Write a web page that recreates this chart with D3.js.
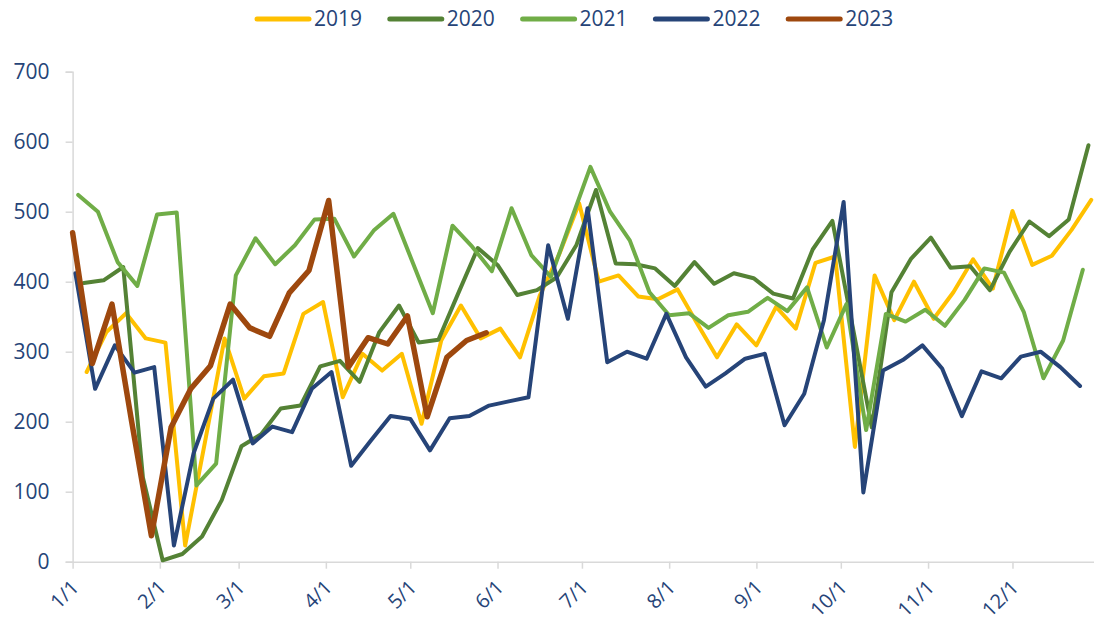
<!DOCTYPE html>
<html>
<head>
<meta charset="utf-8">
<script src="https://cdn.jsdelivr.net/npm/d3@7"></script>
<style>
  html, body { margin: 0; padding: 0; background: #ffffff; }
  svg { display: block; }
  text { font-family: "Open Sans", "Noto Sans", sans-serif; }
</style>
</head>
<body>
<svg id="chart" width="1094" height="622"></svg>
<script>
// ---- data ----
const years = ["2019", "2020", "2021", "2022", "2023"];
// day-of-year of each series' first weekly observation
const startDays = [5, 4, 2, 1, 0];
const v2019 = [271, 328, 355, 319, 313, 23, 170, 319, 233, 265, 269, 354, 371, 235, 297, 273, 297, 197, 316, 366,
  319, 333, 292, 380, 440, 512, 400, 409, 379, 375, 389, 340, 292, 339, 309, 364, 333, 427, 436, 164,
  409, 345, 400, 347, 385, 432, 390, 501, 424, 437, 474, 517];
const v2020 = [398, 402, 421, 120, 2, 11, 36, 88, 165, 182, 219, 223, 279, 287, 257, 328, 366, 313, 317, 383,
  448, 424, 381, 388, 406, 452, 531, 426, 425, 419, 394, 428, 397, 412, 405, 383, 376, 446, 487, 340,
  192, 385, 433, 463, 420, 422, 388, 443, 486, 465, 489, 595];
const v2021 = [524, 500, 428, 394, 496, 499, 109, 140, 409, 462, 425, 452, 489, 490, 436, 473, 497, 426, 355, 480,
  450, 415, 505, 438, 407, 486, 564, 500, 459, 385, 352, 355, 334, 352, 357, 377, 358, 392, 306, 368,
  188, 354, 343, 360, 337, 374, 419, 413, 357, 262, 316, 417];
const v2022 = [412, 247, 309, 270, 278, 23, 155, 233, 260, 169, 193, 185, 247, 271, 137, 173, 208, 204, 159, 205,
  208, 223, 229, 235, 452, 347, 505, 285, 300, 290, 354, 292, 250, 269, 290, 297, 195, 240, 345, 514,
  99, 273, 288, 309, 276, 208, 272, 262, 293, 300, 278, 251];
const v2023 = [470, 283, 368, 200, 37, 192, 247, 280, 368, 334, 322, 384, 416, 516, 278, 320, 311, 351, 207, 292,
  316, 327];
const seriesValues = [v2019, v2020, v2021, v2022, v2023];
const colors = ["#FFC000", "#548235", "#70AD47", "#264478", "#9E480E"];
const tickLabels = ["1/1", "2/1", "3/1", "4/1", "5/1", "6/1", "7/1", "8/1", "9/1", "10/1", "11/1", "12/1"];
const tickDays = [0, 31, 59, 90, 120, 151, 181, 212, 243, 273, 304, 334];
const yTicks = [0, 100, 200, 300, 400, 500, 600, 700];

// ---- layout ----
const svg = d3.select("#chart");
const textColor = "#264478";
const axisColor = "#D9D9D9";
const x0 = 72.6, pxPerDay = 2.814;
const x = d3.scaleLinear().domain([0, 365]).range([x0, x0 + 365 * pxPerDay]);
const y = d3.scaleLinear().domain([0, 700]).range([561.7, 71.7]);

// y axis
const yAxis = svg.append("g")
  .attr("transform", `translate(${x0},0)`)
  .call(d3.axisLeft(y).tickValues(yTicks).tickSize(7).tickPadding(16).tickFormat(d3.format("d")));
yAxis.select(".domain").attr("stroke", axisColor).attr("stroke-width", 1.5);
yAxis.selectAll(".tick line").attr("stroke", axisColor).attr("stroke-width", 1.5);
yAxis.selectAll(".tick text").attr("fill", textColor).attr("font-size", 21)
  .attr("font-family", "'Open Sans', sans-serif");

// x axis
const xAxis = svg.append("g")
  .attr("transform", `translate(0,${y(0)})`)
  .call(d3.axisBottom(x).tickValues(tickDays).tickSize(7).tickSizeOuter(0)
    .tickFormat((d, i) => tickLabels[i]));
xAxis.select(".domain").attr("stroke", axisColor).attr("stroke-width", 1.5);
xAxis.selectAll(".tick line").attr("stroke", axisColor).attr("stroke-width", 1.5);
xAxis.selectAll(".tick text")
  .attr("fill", textColor).attr("font-size", 20)
  .attr("font-family", "'Open Sans', sans-serif")
  .attr("text-anchor", "end")
  .attr("dy", "0.35em")
  .attr("transform", "translate(2,22) rotate(-45)")
  .attr("y", 0).attr("x", 0);

// lines
const line = d3.line().x(d => x(d.day)).y(d => y(d.value));
years.forEach((yr, k) => {
  const pts = seriesValues[k].map((v, i) => ({ day: startDays[k] + 7 * i, value: v }));
  svg.append("path")
    .datum(pts)
    .attr("fill", "none")
    .attr("stroke", colors[k])
    .attr("stroke-width", k === 4 ? 5.5 : 4)
    .attr("stroke-linejoin", "round")
    .attr("stroke-linecap", "round")
    .attr("d", line);
});

// legend
const legend = svg.append("g");
years.forEach((yr, k) => {
  const lx = 257 + k * 132.8;
  legend.append("line")
    .attr("x1", lx).attr("x2", lx + 52).attr("y1", 19).attr("y2", 19)
    .attr("stroke", colors[k]).attr("stroke-width", 5).attr("stroke-linecap", "round");
  legend.append("text")
    .attr("x", lx + 57).attr("y", 19).attr("dy", "0.35em")
    .attr("fill", textColor).attr("font-size", 21)
    .text(yr);
});
</script>
</body>
</html>
